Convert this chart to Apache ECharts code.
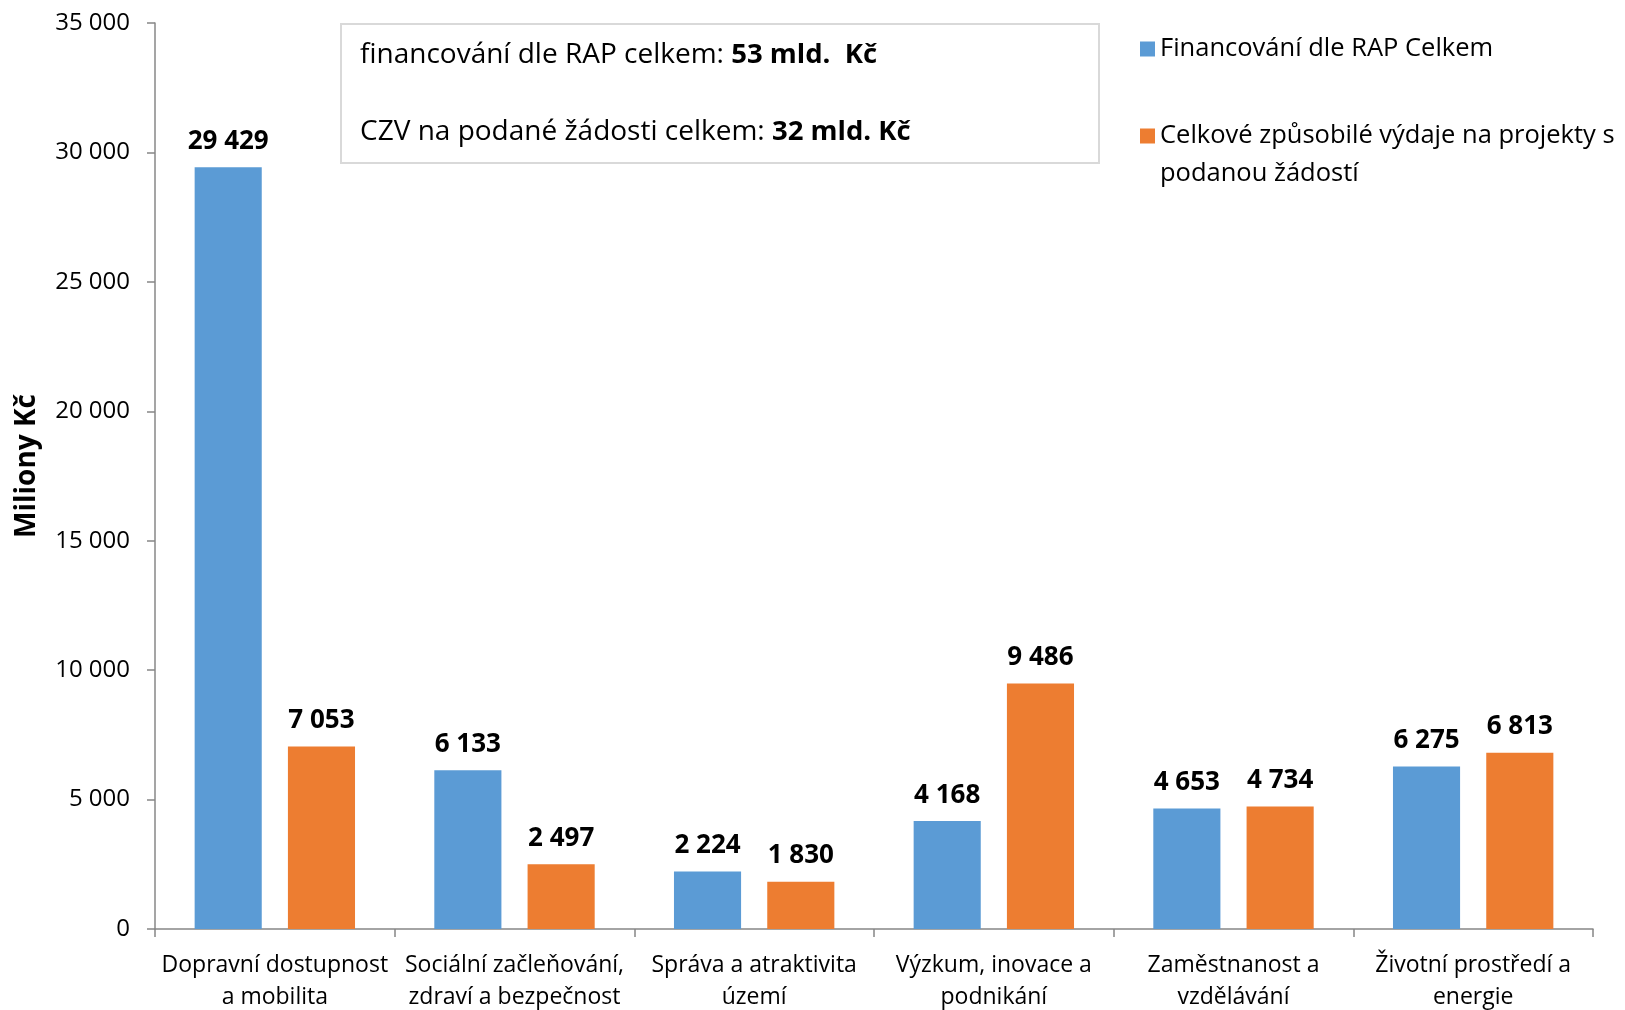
<!DOCTYPE html>
<html>
<head>
<meta charset="utf-8">
<script src="https://cdn.jsdelivr.net/npm/echarts@6/dist/echarts.min.js"></script>
<style>
  html, body { margin: 0; padding: 0; background: #fff; }
  #chart { width: 1625px; height: 1010px; }
</style>
</head>
<body>
<div id="chart"></div>
<script>
// kategorie a hodnoty (miliony Kč)
var categories = [
  'Dopravní dostupnost\na mobilita',
  'Sociální začleňování,\nzdraví a bezpečnost',
  'Správa a atraktivita\núzemí',
  'Výzkum, inovace a\npodnikání',
  'Zaměstnanost a\nvzdělávání',
  'Životní prostředí a\nenergie'
];
var rapValues = [29429, 6133, 2224, 4168, 4653, 6275];
var czvValues = [7053, 2497, 1830, 9486, 4734, 6813];
var seriesNames = ['Financování dle RAP Celkem', 'Celkové způsobilé výdaje na projekty s podanou žádostí'];
var yMin = 0, yMax = 35000, yStep = 5000;

var FONT = 'Open Sans';

function fmt(v) {
  return String(v).replace(/\B(?=(\d{3})+(?!\d))/g, ' ');
}

var chart = echarts.init(document.getElementById('chart'));

var barLabel = {
  show: true,
  position: 'top',
  distance: 13,
  fontFamily: FONT,
  fontSize: 26,
  fontWeight: 'bold',
  color: '#000',
  formatter: function (p) { return fmt(p.value); }
};

var boxRich = {
  n: { fontFamily: FONT, fontSize: 28, color: '#000' },
  b: { fontFamily: FONT, fontSize: 27.5, fontWeight: 'bold', color: '#000' }
};

chart.setOption({
  animation: false,
  textStyle: { fontFamily: FONT },
  grid: { left: 155, right: 32, top: 23, bottom: 81, outerBoundsMode: 'none' },
  legend: [
    {
      data: [seriesNames[0]],
      left: 1140, top: 30, padding: 0,
      orient: 'vertical', icon: 'rect',
      itemWidth: 15, itemHeight: 15,
      selectedMode: false,
      textStyle: { fontFamily: FONT, fontSize: 25.5, lineHeight: 38, color: '#000' }
    },
    {
      data: [seriesNames[1]],
      left: 1140, top: 79, padding: 0,
      orient: 'vertical', icon: 'rect',
      itemWidth: 15, itemHeight: 15,
      selectedMode: false,
      // prázdný první řádek, aby ikona seděla u prvního řádku textu
      formatter: function () { return ' \nCelkové způsobilé výdaje na projekty s\npodanou žádostí'; },
      textStyle: { fontFamily: FONT, fontSize: 25.5, lineHeight: 38, color: '#000' }
    }
  ],
  xAxis: {
    type: 'category',
    data: categories,
    axisLine: { lineStyle: { color: '#878787', width: 1.5 } },
    axisTick: { show: true, length: 8, lineStyle: { color: '#878787', width: 1.5 } },
    axisLabel: {
      color: '#000', fontFamily: FONT, fontSize: 23, lineHeight: 32,
      margin: 20, interval: 0
    }
  },
  yAxis: {
    type: 'value',
    min: yMin, max: yMax, interval: yStep,
    name: 'Miliony Kč',
    nameLocation: 'middle',
    nameGap: 114,
    nameRotate: 90,
    nameTextStyle: { fontFamily: FONT, fontSize: 28, fontWeight: 'bold', color: '#000', padding: [0, 0, 0, 20] },
    axisLine: { show: true, lineStyle: { color: '#878787', width: 1.5 } },
    axisTick: { show: true, length: 8, lineStyle: { color: '#878787', width: 1.5 } },
    splitLine: { show: false },
    axisLabel: {
      color: '#000', fontFamily: FONT, fontSize: 24, margin: 25,
      formatter: function (v) { return fmt(v); }
    }
  },
  series: [
    {
      name: seriesNames[0],
      type: 'bar',
      data: rapValues,
      barWidth: '28%',
      barGap: '39%',
      itemStyle: { color: '#5B9BD5' },
      label: barLabel
    },
    {
      name: seriesNames[1],
      type: 'bar',
      data: czvValues,
      barWidth: '28%',
      itemStyle: { color: '#ED7D31' },
      label: barLabel
    }
  ],
  graphic: [
    {
      type: 'rect',
      shape: { x: 341, y: 24, width: 758, height: 139 },
      style: { fill: '#fff', stroke: '#d9d9d9', lineWidth: 2 },
      silent: true
    },
    {
      type: 'text',
      x: 360, y: 55,
      style: {
        text: '{n|financování dle RAP celkem: }{b|53 mld.  Kč}',
        verticalAlign: 'middle',
        rich: boxRich
      }
    },
    {
      type: 'text',
      x: 360, y: 132,
      style: {
        text: '{n|CZV na podané žádosti celkem: }{b|32 mld. Kč}',
        verticalAlign: 'middle',
        rich: boxRich
      }
    }
  ]
});
</script>
</body>
</html>
